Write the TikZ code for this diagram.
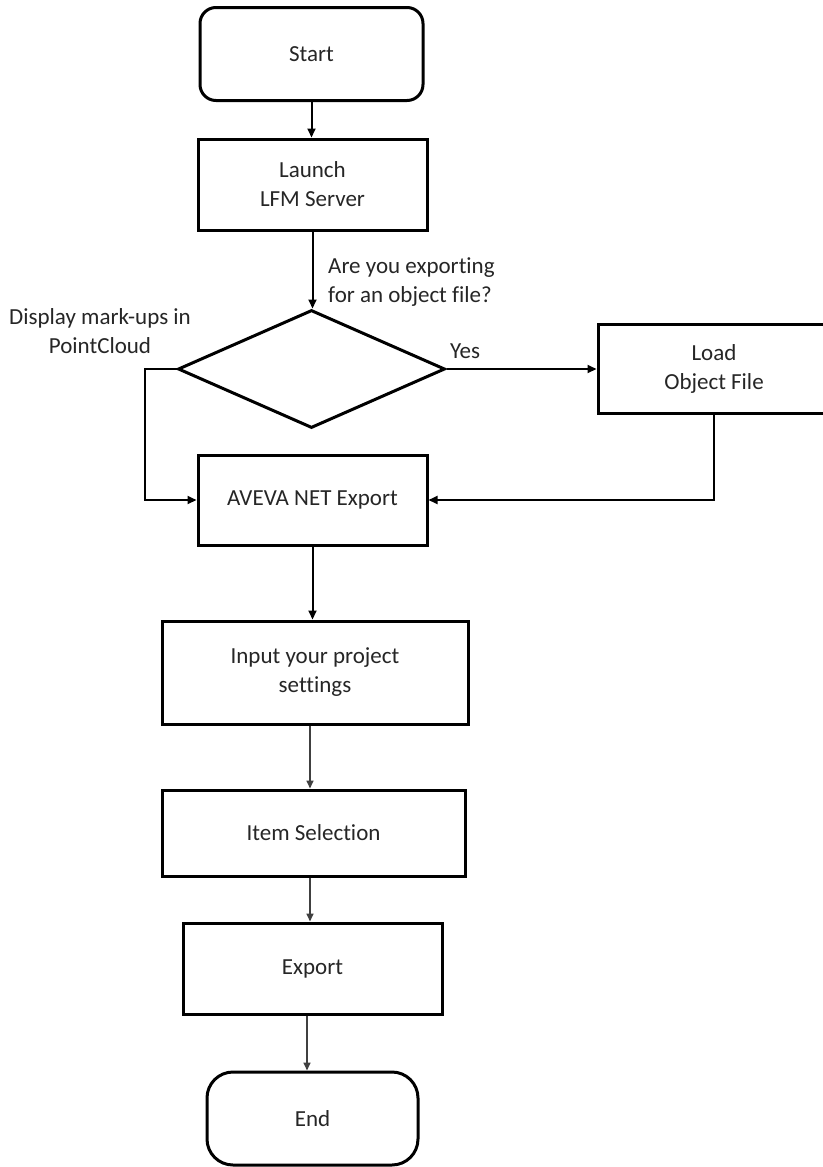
\documentclass[tikz,border=0pt]{standalone}
\usepackage{fontspec}
\setmainfont[Ligatures=NoCommon]{Carlito}
\usetikzlibrary{shapes.geometric,arrows.meta}
\begin{document}
\begin{tikzpicture}[x=1pt,y=-1pt,
  every node/.style={font=\fontsize{23}{29}\selectfont, text=black!85},
  boxnode/.style={draw=black, line width=3pt, rectangle, inner sep=0pt, align=center},
  termnode/.style={boxnode, rounded corners=16pt},
  decnode/.style={draw=black, line width=3pt, diamond, inner sep=0pt, minimum width=267pt, minimum height=118pt},
  conn/.style={draw=black, line width=2pt, -{Triangle[length=9pt,width=8pt]}},
  connlight/.style={draw=black!75, line width=1.6pt, -{Triangle[length=8pt,width=7pt]}},
  lbl/.style={inner sep=0pt}]
\useasboundingbox (0,0) rectangle (822,1167);
\fill[white] (0,0) rectangle (822,1167);

\node[termnode, minimum width=223pt, minimum height=93pt] (start) at (311.5,54) {Start};
\node[boxnode, minimum width=229pt, minimum height=91pt] (launch) at (312.5,184.5) {Launch\\LFM Server};
\node[decnode] (dec) at (311.5,369) {};
\node[boxnode, minimum width=232pt, minimum height=89pt] (load) at (714,369) {Load\\Object File};
\node[boxnode, minimum width=229pt, minimum height=90pt] (aveva) at (312.5,500) {AVEVA NET Export};
\node[boxnode, minimum width=306pt, minimum height=103pt] (input) at (315,672.5) {Input your project\\settings};
\node[boxnode, minimum width=303pt, minimum height=86pt] (item) at (313.5,833) {Item Selection};
\node[boxnode, minimum width=259pt, minimum height=91pt] (export) at (312.5,968.5) {Export};
\node[termnode, rounded corners=26pt, minimum width=211pt, minimum height=93pt] (end) at (312.5,1118.5) {End};

\node[lbl, anchor=west, align=left] (q) at (328,282) {Are you exporting\\for an object file?};
\node[lbl, align=center] (disp) at (100,331) {Display mark-ups in\\PointCloud};
\node[lbl] (yes) at (465,351) {Yes};

\coordinate (lcorner) at (145,369);
\coordinate (rcorner) at (714,500);

\draw[conn] (start.south) -- (start.south |- launch.north);
\draw[conn] (launch.south) -- (launch.south |- dec.north);
\draw[conn] (dec.east) -- (load.west |- dec.east);
\draw[conn] (dec.west) -- (lcorner) |- (aveva.west);
\draw[conn] (load.south) -- (rcorner) -- (aveva.east);
\draw[conn] (aveva.south) -- (aveva.south |- input.north);
\draw[connlight] ([xshift=-5pt]input.south) -- ([xshift=-5pt]input.south |- item.north);
\draw[connlight] ([xshift=-3.5pt]item.south) -- ([xshift=-3.5pt]item.south |- export.north);
\draw[connlight] ([xshift=-5.5pt]export.south) -- ([xshift=-5.5pt]export.south |- end.north);
\end{tikzpicture}
\end{document}
